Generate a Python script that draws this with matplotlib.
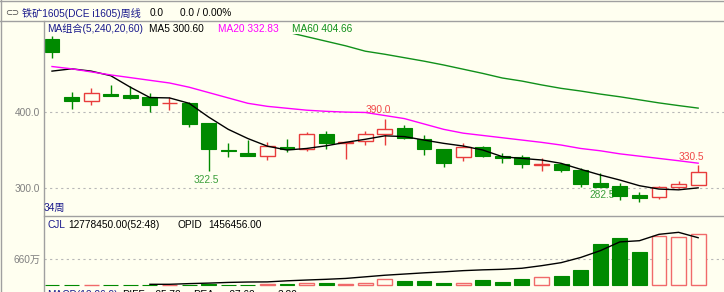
import numpy as np
import matplotlib
matplotlib.use("Agg")
import matplotlib.pyplot as plt
from matplotlib.lines import Line2D

plt.rcParams['font.family'] = ['Liberation Sans', 'Noto Sans CJK SC', 'DejaVu Sans']

# weekly candles, iron ore 1605
opens = [495, 419, 413.6, 422.7, 421.4, 419.2, 411, 411.7, 385.6, 350.5, 346.5, 342.6, 353.5, 351,
         370.5, 359.5, 361.8, 371, 378.3, 364.4, 350.9, 340.5, 353.5, 342.2, 340.5, 331, 331.7,
         323.9, 306.5, 303, 291.2, 288.3, 302, 304.3]
closes = [478, 413.6, 424, 420.5, 418.3, 408.7, 412, 384, 350.9, 349, 342.2, 355.2, 351, 370.5,
          359.5, 360.5, 370.5, 378, 366, 350.9, 333.4, 354.3, 342, 339.2, 331.3, 332, 323.9,
          305.6, 302, 290, 287, 301.3, 305.6, 321.7]
highs = [499, 425.3, 430.5, 435, 434, 424, 419.6, 413, 385.6, 358.7, 363, 360.8, 365, 373,
         375.3, 361, 374.4, 390, 382.6, 369.6, 350.9, 358.7, 355, 345.7, 343.5, 339.2, 331.7,
         326, 319.6, 306.5, 295.5, 303, 310, 330.5]
lows = [470.5, 403.5, 408.7, 420.5, 416, 399.2, 401.8, 380.4, 322.5, 341.3, 342, 337, 347.8,
        348.3, 351.3, 338, 357, 356.5, 364.4, 343.5, 328.2, 336, 341, 333.4, 326, 323, 321.7,
        302, 302, 284.7, 282.5, 285.6, 300, 304.3]

ma5 = [453, 456, 453, 447, 432, 418.5, 418, 411, 393, 377, 365, 355, 350, 352, 355.5, 360,
       364, 368.5, 367.5, 363, 358.7, 355.2, 350, 341.3, 339, 337, 332.6, 324.8, 317.4, 310.8,
       303.4, 299, 298, 300.6]
ma20 = [459, 456, 452, 448, 444.5, 441, 437.5, 432, 425, 418, 411, 407, 404.5, 402, 400.5,
        399.5, 399, 395, 391, 384, 377, 372, 369, 366, 363, 360, 356.5, 352, 349, 345, 342,
        339, 336, 332.8]
nan = np.nan
ma60 = [nan] * 12 + [504, 498, 492, 486, 479, 475, 470.5, 466, 461, 455.5, 450, 444, 440, 435,
                     430.5, 427, 423, 419.5, 415.5, 411.5, 408, 404.7]

# volume in 万
volume = [2, 2, 2, 2, 2, 2, 2, 2, 25, 2, 2, 18, 25, 43, 43, 33, 43, 150, 100, 100, 50, 50, 125,
          75, 150, 193, 226, 376, 1020, 1178, 835, 1228, 1203, 1278]
vol_ma = [nan] * 5 + [18, 18, 35, 48, 65, 75, 78, 105, 125, 143, 165, 205, 245, 275, 305, 330,
                      360, 380, 393, 420, 484, 560, 690, 860, 1080, 1110, 1270, 1320, 1185]

W, H = 724, 292
bg = "#FFFFF0"
green = "#008A00"
red = "#E83C3C"
navy = "#1A1A8C"
gray = "#A0A0A0"
fs = 7.3

def fx(px):
    return px / W

def fy(py):
    return 1 - py / H

fig = plt.figure(figsize=(W / 100, H / 100), dpi=100)
fig.patch.set_facecolor(bg)

ax = fig.add_axes([fx(43.5), fy(215.5), (W - 43.5) / W, (215.5 - 33.5) / H])
axv = fig.add_axes([fx(43.5), 0, (W - 43.5) / W, (292 - 216) / H])

o = np.array(opens)
c = np.array(closes)
hi = np.array(highs)
lo = np.array(lows)
x = np.arange(len(o))
up = c >= o
dn = ~up
bot = np.minimum(o, c)
hgt = np.abs(c - o)

wick_cols = [red if u else green for u in up]
ax.vlines(x, lo, hi, colors=wick_cols, lw=1, zorder=2)
ax.bar(x[dn], hgt[dn], bottom=bot[dn], width=0.76, color=green, edgecolor=green, lw=0.8, zorder=3)
ax.bar(x[up], hgt[up], bottom=bot[up], width=0.76, facecolor=bg, edgecolor=red, lw=1, zorder=3)

ax.plot(x, ma5, color="black", lw=1, zorder=4)
ax.plot(x, ma20, color="#FF00FF", lw=1, zorder=4)
ax.plot(x, ma60, color="#10901A", lw=1, zorder=4)

for yv in [300, 400]:
    ax.axhline(yv, color="#B8B8B8", lw=0.8, ls=(0, (2, 3)), zorder=0)

# high / low markers
ax.annotate("322.5", xy=(8, lows[8]), xytext=(-2, -8.5), textcoords="offset pixels",
            ha="center", va="center", fontsize=fs, color="#3A9F3A", zorder=1)
ax.annotate("282.5", xy=(30, lows[30]), xytext=(-37, 6.5), textcoords="offset pixels",
            ha="center", va="center", fontsize=fs, color="#3A9F3A", zorder=1)
ax.annotate("390.0", xy=(17, highs[17]), xytext=(-7, 9), textcoords="offset pixels",
            ha="center", va="center", fontsize=fs, color="#F04848", zorder=1)
ax.annotate("330.5", xy=(33, highs[33]), xytext=(-7, 8), textcoords="offset pixels",
            ha="center", va="center", fontsize=fs, color="#F04848", zorder=1)

ax.set_xlim(-0.434, 34.32)
ax.set_ylim(264.5, 502.1)
ax.set_yticks([300, 400])
ax.set_yticklabels(["300.0", "400.0"])

# volume panel
v = np.array(volume)
axv.bar(x[dn], v[dn], width=0.76, color=green, edgecolor=green, lw=0.8, zorder=3)
axv.bar(x[up], v[up], width=0.76, facecolor=bg, edgecolor="#F06A6A", lw=1, zorder=3)
axv.plot(x, vol_ma, color="black", lw=1, zorder=4)
axv.axhline(660, color="#B8B8B8", lw=0.8, ls=(0, (2, 3)), zorder=0)
axv.set_xlim(-0.434, 34.32)
axv.set_ylim(-175, 1729)
axv.set_yticks([660])
axv.set_yticklabels(["660万"])

for a in (ax, axv):
    a.set_facecolor("none")
    for s in a.spines.values():
        s.set_visible(False)
    a.set_xticks([])
    a.tick_params(axis="y", length=0, pad=2.5, labelsize=fs, labelcolor="#808080")

# frame lines
for xs, ys in [([0, W], [1, 1]), ([0, W], [20.7, 20.7]), ([43.5, W], [215.7, 215.7]),
               ([43.5, 43.5], [20.7, H]), ([1, 1], [0, H])]:
    fig.add_artist(Line2D([fx(p) for p in xs], [fy(p) for p in ys], color=gray, lw=1))

# title row
fig.text(fx(5), fy(13), "⊂⊃", fontsize=6, color="#404040", va="center", family="DejaVu Sans")
fig.text(fx(22), fy(13), "铁矿1605(DCE i1605)周线", fontsize=fs, color=navy, va="center")
fig.text(fx(150), fy(13), "0.0", fontsize=fs, color="black", va="center")
fig.text(fx(180), fy(13), "0.0 / 0.00%", fontsize=fs, color="black", va="center")

# MA legend row
fig.text(fx(47), fy(29), "MA组合(5,240,20,60)", fontsize=fs, color=navy, va="center")
fig.text(fx(149), fy(29), "MA5 300.60", fontsize=fs, color="black", va="center")
fig.text(fx(218), fy(29), "MA20 332.83", fontsize=fs, color="#FF00FF", va="center")
fig.text(fx(292), fy(29), "MA60 404.66", fontsize=fs, color="#10901A", va="center")

fig.text(fx(44), fy(207.5), "34周", fontsize=fs, color=navy, va="center")

# volume row
fig.text(fx(47), fy(225.5), "CJL", fontsize=fs, color=navy, va="center")
fig.text(fx(68), fy(225.5), "12778450.00(52:48)", fontsize=fs, color="black", va="center")
fig.text(fx(177), fy(225.5), "OPID", fontsize=fs, color="black", va="center")
fig.text(fx(208), fy(225.5), "1456456.00", fontsize=fs, color="black", va="center")

# MACD row (mostly cut off)
fig.text(fx(47), fy(295), "MACD(12,26,9)", fontsize=fs, color=navy, va="center")
fig.text(fx(122), fy(295), "DIFF", fontsize=fs, color="black", va="center")
fig.text(fx(153), fy(295), "-25.72", fontsize=fs, color="black", va="center")
fig.text(fx(193), fy(295), "DEA", fontsize=fs, color="black", va="center")
fig.text(fx(227), fy(295), "-27.62", fontsize=fs, color="black", va="center")
fig.text(fx(278), fy(295), "3.80", fontsize=fs, color="black", va="center")

fig.savefig("out.png", dpi=100, facecolor=bg)
